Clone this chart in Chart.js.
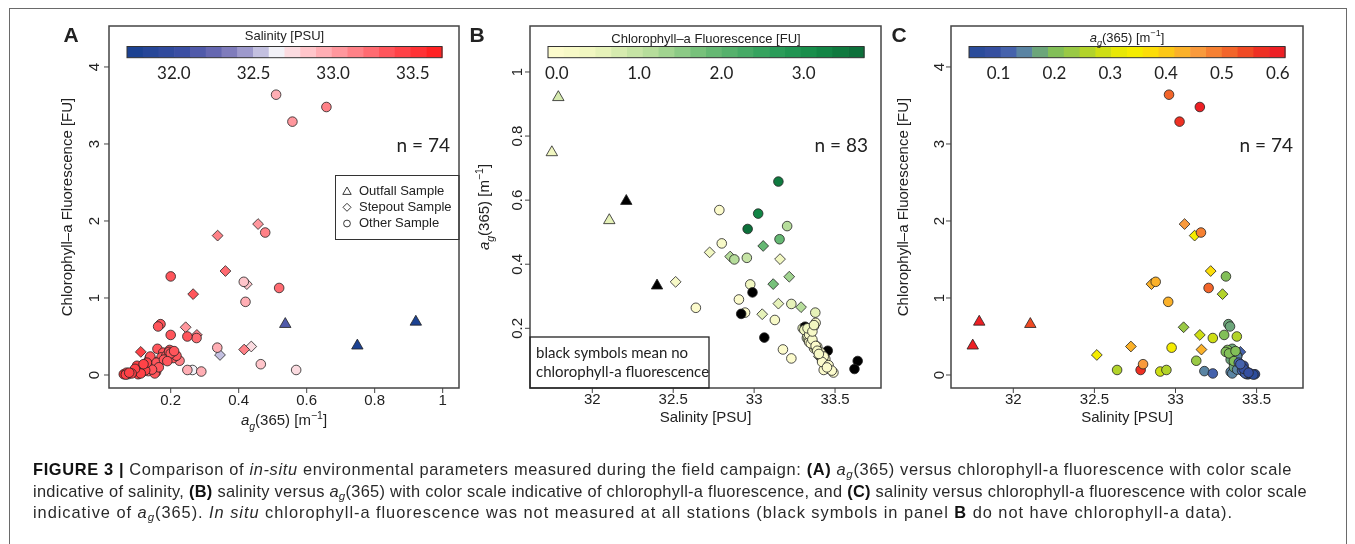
<!DOCTYPE html>
<html>
<head>
<meta charset="utf-8">
<script src="https://cdn.jsdelivr.net/npm/chart.js@4.4.0/dist/chart.umd.min.js"></script>
<style>
	body { margin: 0; background: #fff; width: 1355px; height: 544px; overflow: hidden; position: relative; font-family: "Liberation Sans", Arial, sans-serif; }
	canvas { position: absolute; left: 0; top: 0; }
	#frame { position: absolute; left: 9px; top: 8px; width: 1336px; height: 600px; border: 1.5px solid #6a6a6a; }
	.cap { position: absolute; left: 33px; white-space: nowrap; font-size: 16.4px; line-height: 22px; color: #2a2a2a; }
	.cap b { color: #111; }
	.cap sub { font-size: 0.7em; vertical-align: -0.3em; line-height: 0; }
</style>
</head>
<body>
<div id="frame"></div>
<canvas id="chartA" width="1355" height="544"></canvas>
<canvas id="chartB" width="1355" height="544"></canvas>
<canvas id="chartC" width="1355" height="544"></canvas>
<div class="cap" id="cap1" style="top:458px"><b>FIGURE 3 |</b> Comparison of <i>in-situ</i> environmental parameters measured during the field campaign: <b>(A)</b> <i>a<sub>g</sub></i>(365) versus chlorophyll-a fluorescence with color scale</div>
<div class="cap" id="cap2" style="top:480px">indicative of salinity, <b>(B)</b> salinity versus <i>a<sub>g</sub></i>(365) with color scale indicative of chlorophyll-a fluorescence, and <b>(C)</b> salinity versus chlorophyll-a fluorescence with color scale</div>
<div class="cap" id="cap3" style="top:501px">indicative of <i>a<sub>g</sub></i>(365). <i>In situ</i> chlorophyll-a fluorescence was not measured at all stations (black symbols in panel <b>B</b> do not have chlorophyll-a data).</div>
<script>
// one entry per station: O = outfall, S = stepout, X = other sample
const stationType = [
	'O', 'O', 'O', 'O', 'O',
	'S', 'S', 'S', 'S', 'S', 'S', 'S', 'S', 'S', 'S', 'S',
	'X', 'X', 'X', 'X', 'X', 'X', 'X', 'X', 'X', 'X', 'X', 'X', 'X', 'X', 'X', 'X', 'X', 'X', 'X', 'X', 'X', 'X',
	'X', 'X', 'X', 'X', 'X', 'X', 'X',
	'X', 'X', 'X', 'X', 'X', 'X', 'X', 'X', 'X', 'X', 'X', 'X', 'X', 'X', 'X', 'X', 'X', 'X', 'X', 'X',
	'X', 'X', 'X', 'X', 'X', 'X', 'X', 'X', 'X', 'X', 'X', 'X', 'X', 'X', 'X', 'X', 'X', 'X'
];
const salinity = [
	31.75, 31.79, 32.105, 32.21, 32.40,
	32.515, 32.725, 32.852, 33.05, 33.056, 33.118, 33.15, 33.16, 33.217, 33.29, 33.40,
	32.64, 32.785, 32.80, 32.878, 32.906, 32.944, 32.955, 32.96, 32.976, 33.025, 33.128,
	33.15, 33.157, 33.178, 33.204, 33.23, 33.23, 33.311, 33.326, 33.336, 33.30, 33.378,
	32.92, 32.99, 33.063, 33.315, 33.455, 33.64, 33.62,
	33.35, 33.33, 33.32, 33.35, 33.34, 33.37, 33.38, 33.37, 33.36, 33.39,
	33.40, 33.41, 33.42, 33.34, 33.42, 33.44, 33.44, 33.45, 33.49, 33.43,
	33.38, 33.36, 33.35, 33.31, 33.34, 33.36, 33.38, 33.41, 33.43, 33.42,
	33.46, 33.48, 33.45, 33.33, 33.36, 33.39, 33.40, 33.37
];
const ag365 = [
	0.749, 0.921, 0.537, 0.597, 0.333,
	0.345, 0.437, 0.424, 0.244, 0.457, 0.338, 0.277, 0.416, 0.361, 0.266, 0.112,
	0.264, 0.569, 0.465, 0.415, 0.29, 0.249, 0.42, 0.51, 0.337, 0.558, 0.226,
	0.658, 0.478, 0.134, 0.519, 0.276, 0.106, 0.20, 0.17, 0.163, 0.20, 0.249,
	0.245, 0.312, 0.171, 0.205, 0.13, 0.098, 0.073,
	0.161, 0.178, 0.197, 0.173, 0.187, 0.207, 0.217, 0.138, 0.153, 0.143,
	0.128, 0.114, 0.101, 0.157, 0.117, 0.104, 0.089, 0.074, 0.062, 0.07,
	0.14, 0.158, 0.153, 0.195, 0.18, 0.165, 0.145, 0.125, 0.112, 0.095,
	0.085, 0.068, 0.078, 0.2, 0.19, 0.13, 0.12, 0.21
];
// null = no chlorophyll-a measured (black symbols in B)
const chlA = [
	0.38, 0.69, 0.66, null, null,
	0.26, 0.37, 1.18, 0.62, 1.96, 1.81, 0.52, 0.33, 1.35, 1.05, 0.30,
	0.065, 0.065, 0.14, 1.21, 0.045, 0.065, 0.95, 3.64, 0.355, 3.29, 0.185,
	3.48, 1.85, 0.05, 1.13, 0.48, 0.02, 1.28, 0.66, 0.63, 0.52, 0.50,
	null, null, null, null, null, null, null,
	0.34, 0.29, 0.325, 0.23, 0.25, 0.22, 0.25, 0.22, 0.17, 0.13,
	0.11, 0.095, 0.12, 0.04, 0.04, 0.01, 0.04, 0.01, 0.01, 0.03,
	0.24, 0.16, 0.02, 0.30, 0.20, 0.10, 0.07, 0.06, 0.02, 0.08,
	0.02, 0.005, 0.03, 0.28, 0.18, 0.16, 0.14, 0.31
];

// axis ticks and colour bar labels
const agTicks = [0.2, 0.4, 0.6, 0.8, 1];
const chlTicks = [0, 1, 2, 3, 4];
const salTicks = [32, 32.5, 33, 33.5];
const agTicksB = [0.2, 0.4, 0.6, 0.8, 1];
const salBarLabels = [32.0, 32.5, 33.0, 33.5];
const chlBarLabels = [0.0, 1.0, 2.0, 3.0];
const agBarLabels = [0.1, 0.2, 0.3, 0.4, 0.5, 0.6];

// value range covered by each colour bar
const salBar = [31.706, 33.684];
const chlBar = [-0.107, 3.733];
const agBar = [0.047, 0.613];

const FONT = '"Liberation Sans", Arial, sans-serif';
const FONT2 = 'Lato, "Open Sans", sans-serif';

function hex2rgb(h) {
	return [parseInt(h.slice(1, 3), 16), parseInt(h.slice(3, 5), 16), parseInt(h.slice(5, 7), 16)];
}
//samples a stepped palette of n colours from a few colour stops
function ramp(stops, n) {
	const out = [];
	for (let i = 0; i < n; i++) {
		const t = (i + 0.5) / n;
		let k = 0;
		while (k < stops.length - 2 && t > stops[k + 1][0]) k++;
		const a = stops[k], b = stops[k + 1];
		const f = Math.min(1, Math.max(0, (t - a[0]) / (b[0] - a[0])));
		const ca = hex2rgb(a[1]), cb = hex2rgb(b[1]);
		const c = ca.map((v, j) => Math.round(v + (cb[j] - v) * f));
		out.push(`rgb(${c[0]},${c[1]},${c[2]})`);
	}
	return out;
}
const salColors = ramp([[0, '#17408F'], [0.175, '#3A4EA3'], [0.3, '#706DB4'], [0.4, '#ACA7D4'], [0.475, '#F2F1F7'],
	[0.55, '#FFD0D5'], [0.7, '#FF8C92'], [0.85, '#FF4A50'], [1, '#FF1A1A']], 20);
const chlColors = ramp([[0, '#FFFCCF'], [0.15, '#EEF6BE'], [0.33, '#B4DC9A'], [0.5, '#6DBC76'], [0.7, '#2E9F5C'],
	[0.85, '#138A48'], [1, '#0B6B37']], 20);
const agColors = ['#2B4C9B', '#354FA0', '#4562AC', '#5A84A3', '#6CA67A', '#82BF58', '#99C945', '#B2D32A', '#CEDE14', '#E8E805',
	'#F5EC00', '#FCDD08', '#FCC816', '#FBB129', '#F99A3C', '#F68032', '#F3652A', '#F04A24', '#EE3023', '#ED1F24'];

function binColor(v, range, cols) {
	let i = Math.floor((v - range[0]) / (range[1] - range[0]) * cols.length);
	i = Math.max(0, Math.min(cols.length - 1, i));
	return cols[i];
}

const typeStyle = { O: 'triangle', S: 'rectRot', X: 'circle' };
const typeRadius = { O: 6.6, S: 5.4, X: 4.8 };

const ptsA = [], ptsB = [], ptsC = [];
stationType.forEach((t, i) => {
	const base = { style: typeStyle[t], r: typeRadius[t] };
	if (chlA[i] !== null) {
		ptsA.push({ ...base, x: ag365[i], y: chlA[i], c: binColor(salinity[i], salBar, salColors) });
		ptsC.push({ ...base, x: salinity[i], y: chlA[i], c: binColor(ag365[i], agBar, agColors) });
	}
	ptsB.push({ ...base, x: salinity[i], y: ag365[i], c: chlA[i] === null ? '#000' : binColor(chlA[i], chlBar, chlColors) });
});

//draws text made of parts (italic, sub/superscript), centred on x,y
function richText(ctx, parts, x, y, size, angle, family) {
	family = family || FONT;
	const fontOf = p => (p.it ? 'italic ' : '') + ((p.sub || p.sup) ? size * 0.7 : size) + 'px ' + family;
	const widths = parts.map(p => { ctx.font = fontOf(p); return ctx.measureText(p.t).width; });
	const total = widths.reduce((a, b) => a + b, 0);
	ctx.save();
	ctx.translate(x, y);
	ctx.rotate(angle || 0);
	ctx.textAlign = 'left';
	ctx.textBaseline = 'alphabetic';
	let cx = -total / 2;
	parts.forEach((p, i) => {
		ctx.font = fontOf(p);
		const dy = p.sub ? size * 0.3 : (p.sup ? -size * 0.42 : 0);
		ctx.fillText(p.t, cx, size * 0.36 + dy);
		cx += widths[i];
	});
	ctx.restore();
}

const agTitle = [{ t: 'a', it: 1 }, { t: 'g', it: 1, sub: 1 }, { t: '(365) [m' }, { t: '\u22121', sup: 1 }, { t: ']' }];
const chlTitle = [{ t: 'Chlorophyll\u2013a Fluorescence [FU]' }];
const salTitle = [{ t: 'Salinity [PSU]' }];

function decorate(chart, cfg) {
	const ctx = chart.ctx, ca = chart.chartArea;
	const xs = chart.scales.x, ys = chart.scales.y;
	ctx.save();
	ctx.strokeStyle = '#444';
	ctx.lineWidth = 1.5;
	ctx.strokeRect(ca.left, ca.top, ca.right - ca.left, ca.bottom - ca.top);

	ctx.lineWidth = 1;
	ctx.fillStyle = '#222';
	ctx.font = '15px ' + FONT;
	ctx.textAlign = 'center';
	ctx.textBaseline = 'middle';
	cfg.xTicks.forEach(v => {
		const px = xs.getPixelForValue(v);
		ctx.beginPath(); ctx.moveTo(px, ca.bottom); ctx.lineTo(px, ca.bottom + 5); ctx.stroke();
		ctx.fillText(String(v), px, cfg.xLabY);
	});
	cfg.yTicks.forEach(v => {
		const py = ys.getPixelForValue(v);
		ctx.beginPath(); ctx.moveTo(ca.left - 5, py); ctx.lineTo(ca.left, py); ctx.stroke();
		ctx.save();
		ctx.translate(cfg.yLabX, py);
		ctx.rotate(-Math.PI / 2);
		ctx.fillText(String(v), 0, 0);
		ctx.restore();
	});
	richText(ctx, cfg.xTitle, (ca.left + ca.right) / 2, cfg.xTitleY, 15, 0);
	richText(ctx, cfg.yTitle, cfg.yTitleX, (ca.top + ca.bottom) / 2, 15, -Math.PI / 2);

	//colour bar
	const b = cfg.bar;
	const w = (b.x1 - b.x0) / b.colors.length;
	b.colors.forEach((c, i) => {
		ctx.fillStyle = c;
		ctx.fillRect(b.x0 + i * w, b.y0, w + 0.6, b.y1 - b.y0);
	});
	ctx.strokeStyle = '#333';
	ctx.lineWidth = 1;
	ctx.strokeRect(b.x0, b.y0, b.x1 - b.x0, b.y1 - b.y0);
	ctx.fillStyle = '#222';
	richText(ctx, b.title, (b.x0 + b.x1) / 2, b.titleY, 13, 0);
	ctx.font = '17px ' + FONT2;
	ctx.textAlign = 'center';
	ctx.textBaseline = 'middle';
	b.labels.forEach(v => {
		const px = b.x0 + (v - b.range[0]) / (b.range[1] - b.range[0]) * (b.x1 - b.x0);
		ctx.fillText(v.toFixed(1), px, b.labY);
	});

	//sample count
	ctx.font = '19px ' + FONT2;
	ctx.textAlign = 'right';
	ctx.fillText('n = ' + cfg.n, cfg.nX, 146);

	//panel letter
	ctx.font = 'bold 21px ' + FONT;
	ctx.textAlign = 'center';
	ctx.fillText(cfg.letter, cfg.letterX, 36);

	if (cfg.extra) cfg.extra(ctx);
	ctx.restore();
}

function legendA(ctx) {
	ctx.strokeStyle = '#333';
	ctx.lineWidth = 1;
	ctx.strokeRect(335.5, 175.5, 123.5, 64);
	ctx.lineWidth = 0.9;
	ctx.strokeStyle = '#222';
	const sx = 347;
	ctx.beginPath();
	ctx.moveTo(sx, 187); ctx.lineTo(sx + 4.2, 194.4); ctx.lineTo(sx - 4.2, 194.4); ctx.closePath();
	ctx.stroke();
	ctx.beginPath();
	ctx.moveTo(sx, 203.3); ctx.lineTo(sx + 4, 207.3); ctx.lineTo(sx, 211.3); ctx.lineTo(sx - 4, 207.3); ctx.closePath();
	ctx.stroke();
	ctx.beginPath();
	ctx.arc(sx, 223.5, 3.4, 0, Math.PI * 2);
	ctx.stroke();
	ctx.fillStyle = '#222';
	ctx.font = '13px ' + FONT;
	ctx.textAlign = 'left';
	ctx.textBaseline = 'middle';
	ctx.fillText('Outfall Sample', 359, 191.5);
	ctx.fillText('Stepout Sample', 359, 207.5);
	ctx.fillText('Other Sample', 359, 223.5);
}

function noteB(ctx) {
	ctx.strokeStyle = '#222';
	ctx.lineWidth = 1.3;
	ctx.strokeRect(530, 337, 179, 51);
	ctx.fillStyle = '#222';
	ctx.font = '15px ' + FONT2;
	ctx.textAlign = 'left';
	ctx.textBaseline = 'middle';
	ctx.fillText('black symbols mean no', 536, 353);
	ctx.fillText('chlorophyll-a fluorescence', 536, 372);
}

function panel(id, pts, xr, yr, pad, cfg) {
	return new Chart(document.getElementById(id), {
		type: 'scatter',
		data: {
			datasets: [{
				data: pts.map(p => ({ x: p.x, y: p.y })),
				pointStyle: pts.map(p => p.style),
				pointRadius: pts.map(p => p.r),
				pointBackgroundColor: pts.map(p => p.c),
				pointBorderColor: '#222',
				pointBorderWidth: 0.8,
			}],
		},
		options: {
			responsive: false,
			animation: false,
			events: [],
			devicePixelRatio: 1,
			layout: { padding: pad },
			plugins: { legend: { display: false }, tooltip: { enabled: false } },
			scales: {
				x: { type: 'linear', display: false, min: xr[0], max: xr[1] },
				y: { type: 'linear', display: false, min: yr[0], max: yr[1] },
			},
		},
		plugins: [{ id: 'deco', afterDraw: chart => decorate(chart, cfg) }],
	});
}

panel('chartA', ptsA, [0.0185, 1.048], [-0.169, 4.532], { left: 109, top: 26, right: 896, bottom: 156 }, {
	xTicks: agTicks, yTicks: chlTicks, xLabY: 401, yLabX: 94.5,
	xTitle: agTitle, xTitleY: 420, yTitle: chlTitle, yTitleX: 67,
	bar: { x0: 127, x1: 442, y0: 46.5, y1: 57.7, range: salBar, colors: salColors, labels: salBarLabels, title: salTitle, titleY: 35.5, labY: 73.5 },
	n: ptsA.length, nX: 450, letter: 'A', letterX: 71, extra: legendA,
});
panel('chartB', ptsB, [31.615, 33.784], [0.0137, 1.1435], { left: 530, top: 26, right: 474, bottom: 156 }, {
	xTicks: salTicks, yTicks: agTicksB, xLabY: 400, yLabX: 518,
	xTitle: salTitle, xTitleY: 417, yTitle: agTitle, yTitleX: 484,
	bar: { x0: 548, x1: 864, y0: 46.5, y1: 57.7, range: chlBar, colors: chlColors, labels: chlBarLabels, title: chlTitle, titleY: 38, labY: 73.5 },
	n: ptsB.length, nX: 868, letter: 'B', letterX: 477, extra: noteB,
});
panel('chartC', ptsC, [31.616, 33.786], [-0.169, 4.532], { left: 951, top: 26, right: 52, bottom: 156 }, {
	xTicks: salTicks, yTicks: chlTicks, xLabY: 400, yLabX: 940,
	xTitle: salTitle, xTitleY: 417, yTitle: chlTitle, yTitleX: 903,
	bar: { x0: 969, x1: 1285, y0: 46.5, y1: 57.7, range: agBar, colors: agColors, labels: agBarLabels, title: agTitle, titleY: 37, labY: 74 },
	n: ptsC.length, nX: 1293, letter: 'C', letterX: 899,
});

//stretch caption lines to the width they have in the figure (spread over all letters)
[['cap1', 1292], ['cap2', 1307], ['cap3', 1233]].forEach(([id, right]) => {
	const el = document.getElementById(id);
	const w = el.getBoundingClientRect().width;
	el.style.letterSpacing = ((right - 33 - w) / el.textContent.length) + 'px';
});
</script>
</body>
</html>
